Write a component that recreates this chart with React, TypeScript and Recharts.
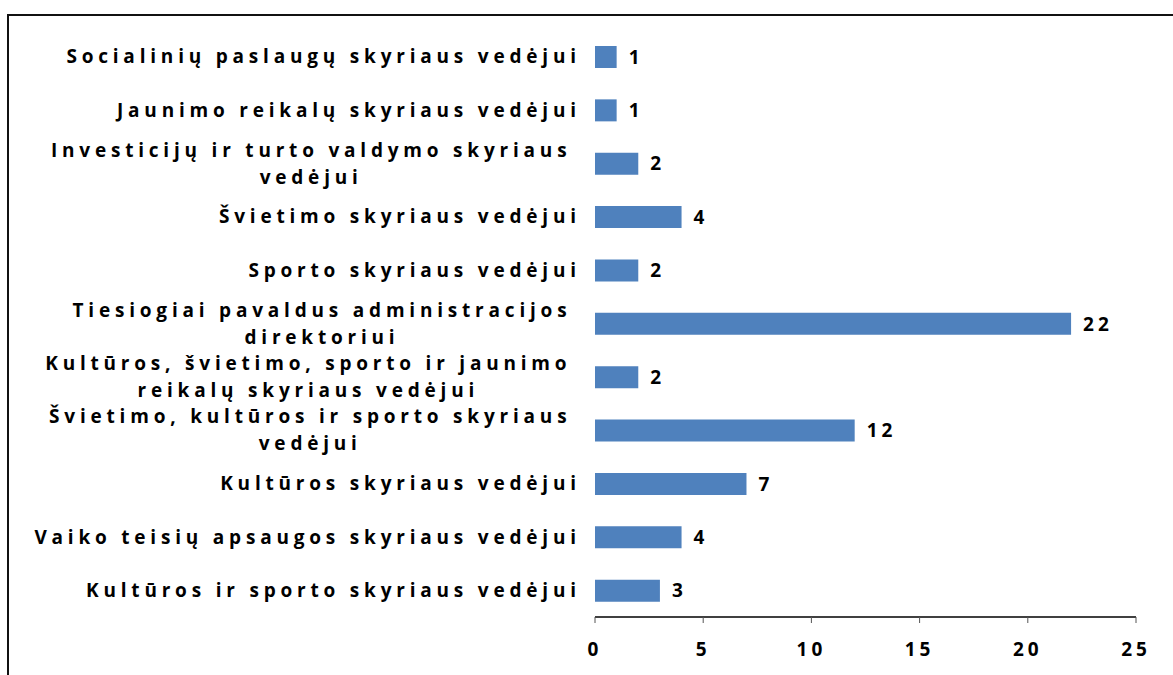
import React from 'react';
import { BarChart, Bar, XAxis, YAxis, LabelList } from 'recharts';

const categories = [
  'Socialinių paslaugų skyriaus vedėjui',
  'Jaunimo reikalų skyriaus vedėjui',
  'Investicijų ir turto valdymo skyriaus\nvedėjui',
  'Švietimo skyriaus vedėjui',
  'Sporto skyriaus vedėjui',
  'Tiesiogiai pavaldus administracijos\ndirektoriui',
  'Kultūros, švietimo, sporto ir jaunimo\nreikalų skyriaus vedėjui',
  'Švietimo, kultūros ir sporto skyriaus\nvedėjui',
  'Kultūros skyriaus vedėjui',
  'Vaiko teisių apsaugos skyriaus vedėjui',
  'Kultūros ir sporto skyriaus vedėjui',
];
const values = [1, 1, 2, 4, 2, 22, 2, 12, 7, 4, 3];
const xTicks = [0, 5, 10, 15, 20, 25];
const boundaryTicks = [0, 1, 2, 3, 4, 5, 6, 7, 8, 9, 10, 11];

const data = categories.map((name, i) => ({ name, value: values[i] }));

const FONT = '"Open Sans", "DejaVu Sans", sans-serif';
const FS = 19;
const LS = 4.8;
const FW = 700;

let ctx: CanvasRenderingContext2D | null = null;
function measure(s: string): number {
  if (!ctx) {
    const c = document.createElement('canvas');
    ctx = c.getContext('2d');
    if (ctx) {
      ctx.font = `${FW} ${FS}px "Open Sans"`;
      (ctx as any).letterSpacing = `${LS}px`;
    }
  }
  return ctx ? ctx.measureText(s).width : s.length * 14;
}

const textStyle: React.CSSProperties = {
  fontFamily: FONT,
  fontWeight: FW,
  fontSize: FS,
  letterSpacing: LS,
};

const valueStyle: React.CSSProperties = { ...textStyle, letterSpacing: 4 };

function CategoryTick(props: any) {
  const { x, y, payload } = props;
  const lines: string[] = String(payload.value).split('\n');
  if (lines.length === 1) {
    return (
      <text x={x + LS - 2} y={y} dy="0.35em" textAnchor="end" fill="#000" style={textStyle}>
        {lines[0]}
      </text>
    );
  }
  const maxW = Math.max(...lines.map(measure));
  const cx = x - 9 - maxW / 2;
  const lh = 27;
  return (
    <g>
      {lines.map((l, i) => (
        <text
          key={i}
          x={cx + LS / 2}
          y={y + (i - (lines.length - 1) / 2) * lh}
          dy="0.35em"
          textAnchor="middle"
          fill="#000"
          style={textStyle}
        >
          {l}
        </text>
      ))}
    </g>
  );
}

export default function App() {
  return (
    <div
      style={{
        position: 'fixed',
        left: 0,
        top: 0,
        width: 1173,
        height: 675,
        overflow: 'hidden',
        background: '#fff',
      }}
    >
      <div
        style={{
          position: 'absolute',
          left: 7,
          top: 14,
          width: 1400,
          height: 900,
          border: '2px solid #111',
        }}
      />
      <div style={{ position: 'absolute', left: 0, top: 0 }}>
        <BarChart
          width={1173}
          height={675}
          data={data}
          layout="vertical"
          margin={{ top: 30, right: 37, bottom: 18, left: 0 }}
          barSize={22}
        >
          <XAxis
            type="number"
            domain={[0, 25]}
            ticks={xTicks}
            interval={0}
            height={40}
            tickSize={6}
            tickMargin={20}
            axisLine={{ stroke: '#000', strokeWidth: 1.5 }}
            tickLine={{ stroke: '#555' }}
            tick={{ fill: '#000', ...valueStyle } as any}
          />
          <YAxis
            yAxisId="grid"
            type="number"
            domain={[0, 11]}
            ticks={boundaryTicks}
            interval={0}
            width={0}
            tick={false}
            tickSize={7}
            axisLine={{ stroke: '#555', strokeWidth: 1.5 }}
            tickLine={{ stroke: '#222' }}
          />
          <YAxis
            yAxisId="cat"
            type="category"
            dataKey="name"
            width={595}
            interval={0}
            axisLine={false}
            tickLine={false}
            tickSize={0}
            tickMargin={17}
            tick={<CategoryTick />}
          />
          <Bar dataKey="value" yAxisId="cat" fill="#4F81BD" isAnimationActive={false}>
            <LabelList
              dataKey="value"
              position="right"
              offset={12}
              fill="#000"
              style={valueStyle}
            />
          </Bar>
        </BarChart>
      </div>
    </div>
  );
}
